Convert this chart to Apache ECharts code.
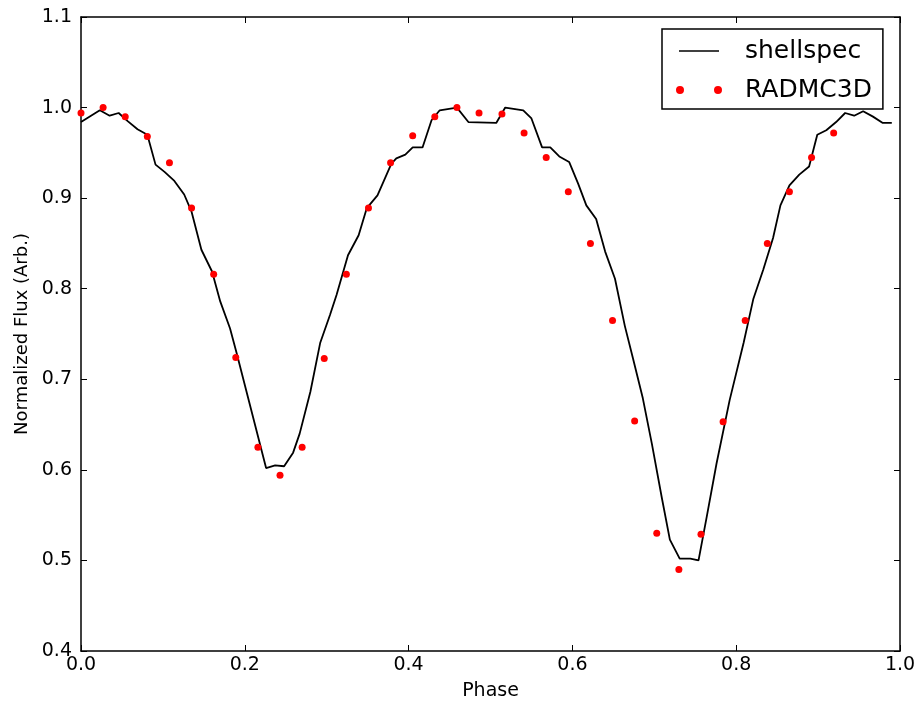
<!DOCTYPE html>
<html>
<head>
<meta charset="utf-8">
<script src="https://cdn.jsdelivr.net/npm/echarts@6/dist/echarts.min.js"></script>
<style>
  html, body { margin: 0; padding: 0; background: #fff; }
  #chart { width: 921px; height: 710px; }
</style>
</head>
<body>
<div id="chart"></div>
<script>
// shellspec curve (phase, flux)
const shellPhase = [0.000, 0.023, 0.035, 0.046, 0.057, 0.069, 0.081, 0.091, 0.102, 0.114,
  0.126, 0.135, 0.147, 0.160, 0.170, 0.182, 0.190, 0.226, 0.237, 0.248,
  0.259, 0.267, 0.280, 0.292, 0.304, 0.312, 0.326, 0.339, 0.349, 0.362,
  0.379, 0.385, 0.396, 0.405, 0.417, 0.428, 0.438, 0.459, 0.473, 0.507,
  0.518, 0.540, 0.550, 0.563, 0.573, 0.584, 0.596, 0.607, 0.617, 0.629,
  0.640, 0.652, 0.664, 0.674, 0.686, 0.697, 0.709, 0.719, 0.731, 0.744,
  0.754, 0.764, 0.776, 0.792, 0.809, 0.821, 0.833, 0.845, 0.854, 0.865,
  0.877, 0.889, 0.899, 0.910, 0.922, 0.933, 0.944, 0.955, 0.967, 0.979, 0.990]
const shellFlux = [0.984, 0.997, 0.991, 0.994, 0.985, 0.976, 0.970, 0.937, 0.929, 0.919,
  0.904, 0.885, 0.843, 0.819, 0.786, 0.756, 0.729, 0.602, 0.605, 0.604,
  0.619, 0.640, 0.686, 0.740, 0.771, 0.793, 0.837, 0.859, 0.889, 0.903,
  0.938, 0.944, 0.948, 0.956, 0.956, 0.986, 0.997, 1.000, 0.984, 0.983,
  1.000, 0.997, 0.988, 0.956, 0.956, 0.946, 0.940, 0.916, 0.892, 0.877,
  0.841, 0.811, 0.759, 0.723, 0.679, 0.629, 0.570, 0.523, 0.502, 0.502,
  0.500, 0.548, 0.607, 0.677, 0.740, 0.789, 0.821, 0.856, 0.892, 0.914,
  0.926, 0.935, 0.970, 0.975, 0.984, 0.994, 0.991, 0.996, 0.990, 0.983, 0.983]

// RADMC3D points
const radPhase = [0.000, 0.027, 0.054, 0.081, 0.108, 0.135, 0.162, 0.189, 0.216, 0.243,
  0.270, 0.297, 0.324, 0.351, 0.378, 0.405, 0.432, 0.459, 0.486, 0.514,
  0.541, 0.568, 0.595, 0.622, 0.649, 0.676, 0.703, 0.730, 0.757, 0.784,
  0.811, 0.838, 0.865, 0.892, 0.919]
const radFlux = [0.994, 1.000, 0.990, 0.968, 0.939, 0.889, 0.816, 0.724, 0.625, 0.594,
  0.625, 0.723, 0.816, 0.889, 0.939, 0.969, 0.990, 1.000, 0.994, 0.993,
  0.972, 0.945, 0.907, 0.850, 0.765, 0.654, 0.530, 0.490, 0.529, 0.653,
  0.765, 0.850, 0.907, 0.945, 0.972]

const xTicks = [0.0, 0.2, 0.4, 0.6, 0.8, 1.0]
const yTicks = [0.4, 0.5, 0.6, 0.7, 0.8, 0.9, 1.0, 1.1]

const font = 'DejaVu Sans'

let shellData = shellPhase.map((p, i) => [p, shellFlux[i]])
let radData = radPhase.map((p, i) => [p, radFlux[i]])

// legend icons: a plain line, and two dots like the matplotlib marker
const lineIcon = 'path://M0,0 L0,0 M3,3.2 L43,3.2 L43,4.8 L3,4.8 Z M46,8 L46,8'
const twoDots = 'path://M0,4a4,4 0 1,0 8,0a4,4 0 1,0 -8,0Z M38,4a4,4 0 1,0 8,0a4,4 0 1,0 -8,0Z'

function tickAxis(pos, isX) {
  return {
    type: 'value',
    position: pos,
    min: isX ? xTicks[0] : yTicks[0],
    max: isX ? xTicks[xTicks.length - 1] : yTicks[yTicks.length - 1],
    interval: isX ? 0.2 : 0.1,
    axisLine: { show: true, onZero: false, lineStyle: { color: '#000', width: 1.5 } },
    axisTick: { show: true, inside: true, length: 6, lineStyle: { color: '#000', width: 1 } },
    axisLabel: { show: false },
    splitLine: { show: false }
  }
}

let myChart = echarts.init(document.getElementById('chart'))

let xMain = tickAxis('bottom', true)
xMain.name = 'Phase'
xMain.nameLocation = 'middle'
xMain.nameGap = 31
xMain.nameTextStyle = { fontFamily: font, fontSize: 19, color: '#000' }
xMain.axisLabel = { show: true, margin: 5, fontFamily: font, fontSize: 19, color: '#000',
  formatter: v => v.toFixed(1) }

let yMain = tickAxis('left', false)
yMain.name = 'Normalized Flux (Arb.)'
yMain.nameLocation = 'middle'
yMain.nameGap = 50
yMain.nameTextStyle = { fontFamily: font, fontSize: 18, color: '#000' }
yMain.axisLabel = { show: true, margin: 9, fontFamily: font, fontSize: 19, color: '#000',
  formatter: v => v.toFixed(1) }

myChart.setOption({
  animation: false,
  backgroundColor: '#fff',
  grid: { left: 81, right: 21, top: 17, bottom: 59 },
  legend: {
    orient: 'vertical',
    left: 662,
    top: 29,
    padding: [9, 11, 6, 14],
    itemGap: 13,
    itemWidth: 46,
    itemHeight: 8,
    borderColor: '#000',
    borderWidth: 1.5,
    textStyle: { fontFamily: font, fontSize: 25, color: '#000', lineHeight: 26, padding: [0, 0, 0, 18] },
    data: [
      { name: 'shellspec', icon: lineIcon, itemStyle: { color: '#000' } },
      { name: 'RADMC3D', icon: twoDots }
    ]
  },
  xAxis: [xMain, tickAxis('top', true)],
  yAxis: [yMain, tickAxis('right', false)],
  series: [
    {
      name: 'shellspec',
      type: 'line',
      data: shellData,
      symbol: 'none',
      lineStyle: { color: '#000', width: 1.8 },
      itemStyle: { color: '#000' }
    },
    {
      name: 'RADMC3D',
      type: 'scatter',
      data: radData,
      symbol: 'circle',
      symbolSize: 7,
      itemStyle: { color: '#ff0000', opacity: 1 },
      z: 3
    }
  ]
})
</script>
</body>
</html>
